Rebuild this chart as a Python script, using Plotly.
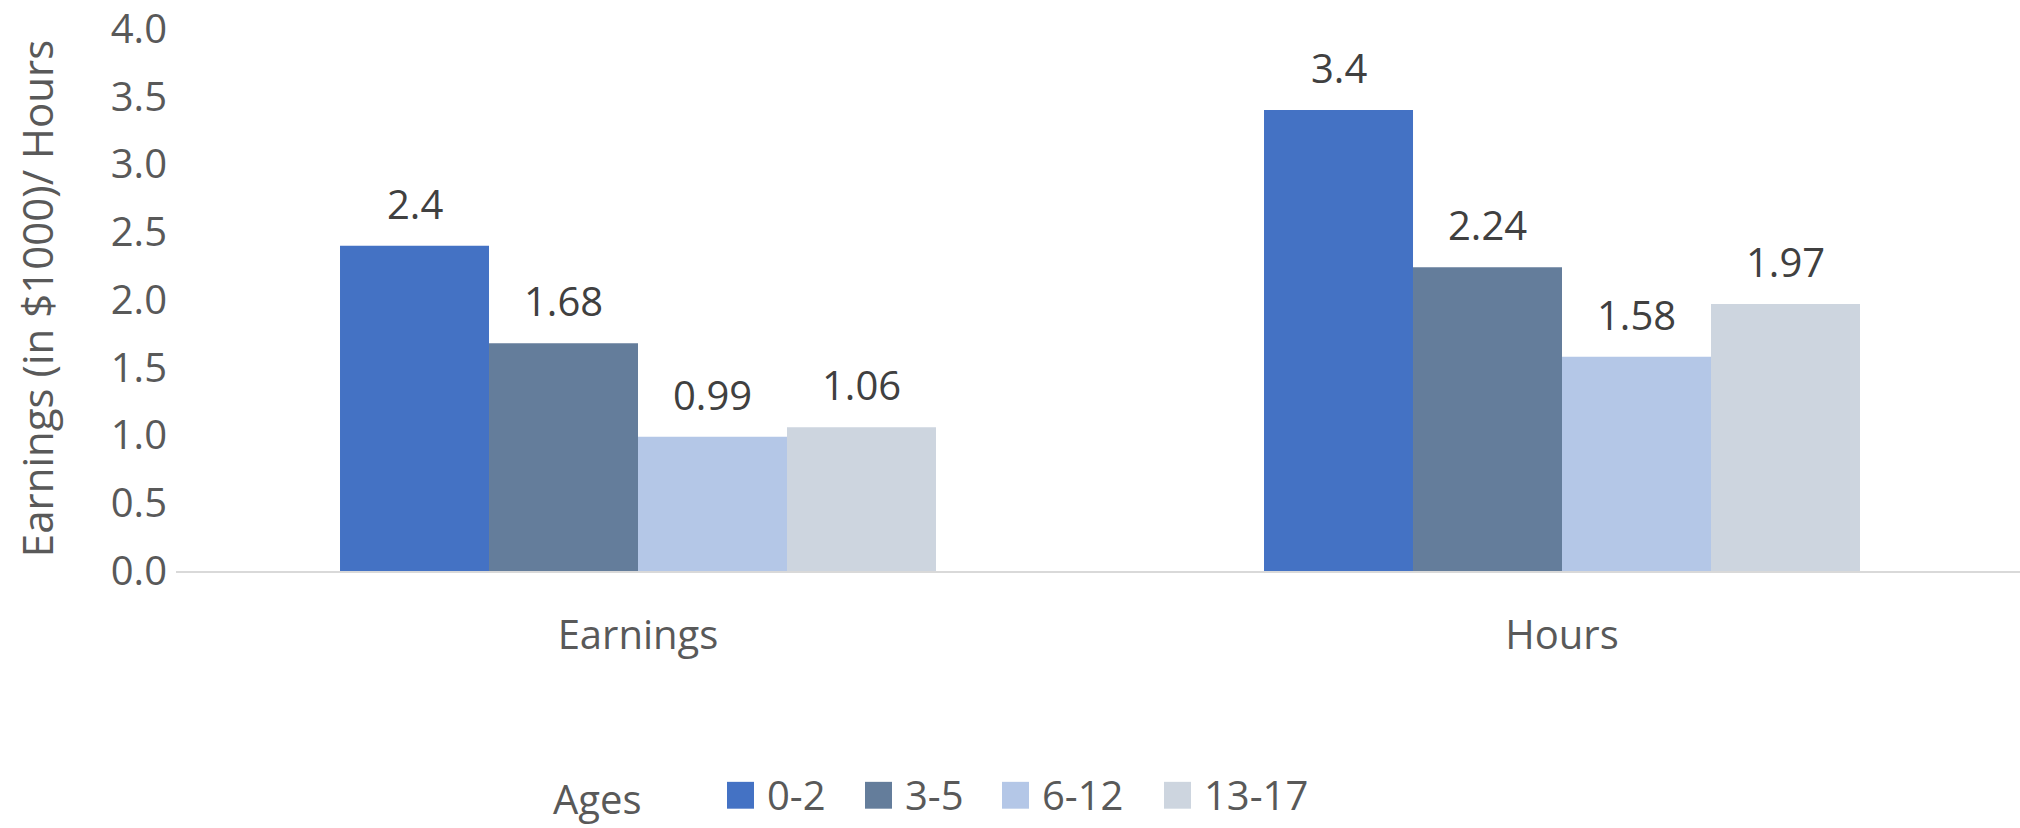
import plotly.graph_objects as go

# Data
categories = ["Earnings", "Hours"]
age_groups = ["0-2", "3-5", "6-12", "13-17"]
values_0_2 = [2.4, 3.4]
values_3_5 = [1.68, 2.24]
values_6_12 = [0.99, 1.58]
values_13_17 = [1.06, 1.97]
series_values = [values_0_2, values_3_5, values_6_12, values_13_17]
label_text = [["2.4", "3.4"], ["1.68", "2.24"], ["0.99", "1.58"], ["1.06", "1.97"]]
colors = ["#4472C4", "#647D9B", "#B4C7E7", "#CDD5DF"]

W, H = 2020, 828
Y_TOP = 4.02
L, R, T, B = 176, 0, 23, 257
PW, PH = W - L - R, H - T - B
FONT = "Open Sans"
BARGAP = 0.355


def px_x(px):
    return (px - L) / PW


def px_y(py):
    return (H - B - py) / PH


fig = go.Figure()
for name, vals, col in zip(age_groups, series_values, colors):
    fig.add_trace(go.Bar(
        name=name, x=categories, y=vals,
        marker=dict(color=col, line=dict(width=0)),
        showlegend=False,
    ))

# value labels above each bar
n = len(age_groups)
bw = (1 - BARGAP) / n
annotations = []
for j, (vals, labels) in enumerate(zip(series_values, label_text)):
    for i, (v, t) in enumerate(zip(vals, labels)):
        annotations.append(dict(
            x=i + (j - (n - 1) / 2) * bw, y=v, xref="x", yref="y",
            text=t, showarrow=False, xanchor="center", yanchor="bottom",
            yshift=13, font=dict(family=FONT, size=40, color="#404040"),
        ))

# legend row: title, colour squares and labels
shapes = []
annotations.append(dict(
    x=px_x(551), y=px_y(800), xref="paper", yref="paper", text="Ages",
    showarrow=False, xanchor="left", yanchor="middle",
    font=dict(family=FONT, size=40, color="#595959"),
))
square_left = [727, 865, 1002, 1164]
for name, col, sx in zip(age_groups, colors, square_left):
    shapes.append(dict(
        type="rect", xref="paper", yref="paper",
        x0=px_x(sx), x1=px_x(sx + 27), y0=px_y(810), y1=px_y(783),
        fillcolor=col, line=dict(width=0),
    ))
    annotations.append(dict(
        x=px_x(sx + 38), y=px_y(796), xref="paper", yref="paper", text=name,
        showarrow=False, xanchor="left", yanchor="middle",
        font=dict(family=FONT, size=40, color="#595959"),
    ))

fig.update_layout(
    width=W, height=H,
    margin=dict(l=L, r=R, t=T, b=B, pad=0),
    barmode="group", bargap=BARGAP, bargroupgap=0,
    plot_bgcolor="white", paper_bgcolor="white",
    font=dict(family=FONT, size=40, color="#595959"),
    annotations=annotations, shapes=shapes,
    showlegend=False,
)
fig.update_xaxes(
    range=[-0.5, -0.5 + PW / 924], showgrid=False, zeroline=False,
    showline=True, linecolor="#D9D9D9", linewidth=2,
    ticks="", tickfont=dict(family=FONT, size=40, color="#595959"),
    ticklabelstandoff=28,
)
fig.update_yaxes(
    range=[0, Y_TOP], tick0=0, dtick=0.5, tickformat=".1f", showgrid=False,
    zeroline=False, showline=False, ticks="",
    tickfont=dict(family=FONT, size=40, color="#595959"),
    ticklabelstandoff=8, ticklabeloverflow="allow",
    title=dict(text="Earnings (in $1000)/ Hours",
               font=dict(family=FONT, size=42, color="#595959"), standoff=44),
)

fig.write_html("out.html")
